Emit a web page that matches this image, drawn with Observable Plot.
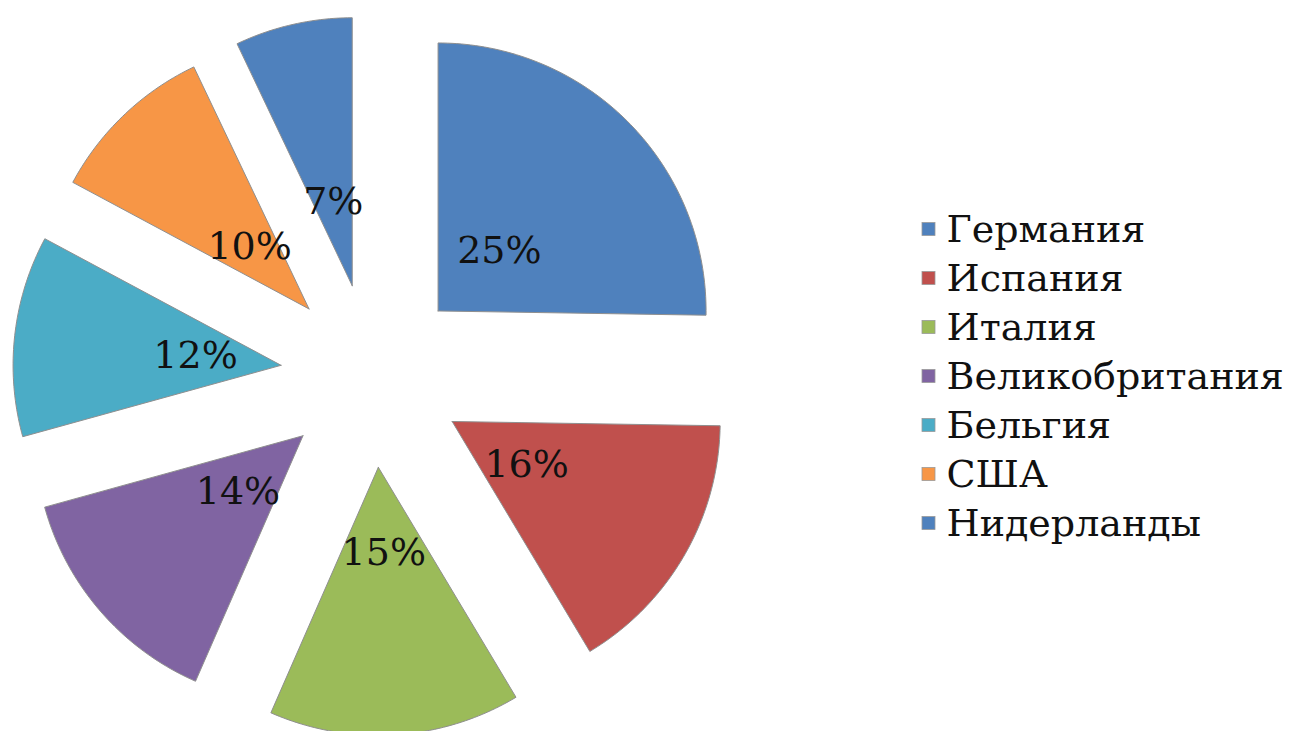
<!DOCTYPE html>
<html>
<head>
<meta charset="utf-8">
<script src="https://cdn.jsdelivr.net/npm/d3@7"></script>
<script src="https://cdn.jsdelivr.net/npm/@observablehq/plot@0.6"></script>
<style>
  html, body { margin: 0; padding: 0; background: #fff; }
  #chart svg { display: block; }
</style>
</head>
<body>
<div id="chart"></div>
<script>
const countries = ["Германия", "Испания", "Италия", "Великобритания", "Бельгия", "США", "Нидерланды"];
const shares = [25, 16, 15, 14, 12, 10, 7];
const colors = ["#4F81BD", "#C0504D", "#9BBB59", "#8064A2", "#4BACC6", "#F79646", "#4F81BD"];
const labels = shares.map(v => v + "%");

// layout constants (pixels)
const W = 1289, H = 731;
const cx = 372, cy = 375, R = 268, explode = 92, labelR = explode + 86;
const fontFam = "'DejaVu Serif', serif";

const total = d3.sum(shares);
const slices = [];
let acc = 0;
shares.forEach((v, i) => {
  const a0 = acc / total * 2 * Math.PI;
  acc += v;
  const a1 = acc / total * 2 * Math.PI;
  const mid = (a0 + a1) / 2;
  slices.push({i, name: countries[i], color: colors[i], label: labels[i], a0, a1, mid,
    ox: cx + explode * Math.sin(mid), oy: cy - explode * Math.cos(mid)});
});

const verts = [];
for (const s of slices) {
  verts.push({name: s.name, color: s.color, x: s.ox, y: s.oy});
  const n = Math.max(2, Math.ceil((s.a1 - s.a0) / (Math.PI / 180)));
  for (let k = 0; k <= n; k++) {
    const a = s.a0 + (s.a1 - s.a0) * k / n;
    verts.push({name: s.name, color: s.color, x: s.ox + R * Math.sin(a), y: s.oy - R * Math.cos(a)});
  }
  verts.push({name: s.name, color: s.color, x: s.ox, y: s.oy});
}

const labelPts = slices.map(s => ({
  label: s.label,
  x: cx + labelR * Math.sin(s.mid),
  y: cy - labelR * Math.cos(s.mid)
}));

const legX = 922, legY0 = 229, legStep = 49, legSq = 13;
const legend = countries.map((c, i) => ({
  name: c, color: colors[i],
  x1: legX, x2: legX + legSq,
  y1: legY0 + i * legStep - legSq / 2, y2: legY0 + i * legStep + legSq / 2,
  tx: legX + legSq + 11, ty: legY0 + i * legStep
}));

const chart = Plot.plot({
  width: W, height: H,
  margin: 0,
  x: {domain: [0, W], axis: null},
  y: {domain: [0, H], reverse: true, axis: null},
  color: {type: "identity"},
  style: {background: "#fff"},
  marks: [
    Plot.line(verts, {x: "x", y: "y", z: "name", fill: "color", stroke: "#8f8f8f", strokeWidth: 1, curve: "linear"}),
    Plot.text(labelPts, {x: "x", y: "y", text: "label", fill: "#111", fontSize: 38, fontFamily: fontFam, textAnchor: "middle", lineAnchor: "middle"}),
    Plot.rect(legend, {x1: "x1", x2: "x2", y1: "y1", y2: "y2", fill: "color", stroke: "#9a9a9a", strokeWidth: 0.8}),
    Plot.text(legend, {x: "tx", y: "ty", text: "name", fill: "#111", fontSize: 38, fontFamily: fontFam, textAnchor: "start", lineAnchor: "middle"})
  ]
});
document.getElementById("chart").appendChild(chart);
</script>
</body>
</html>
